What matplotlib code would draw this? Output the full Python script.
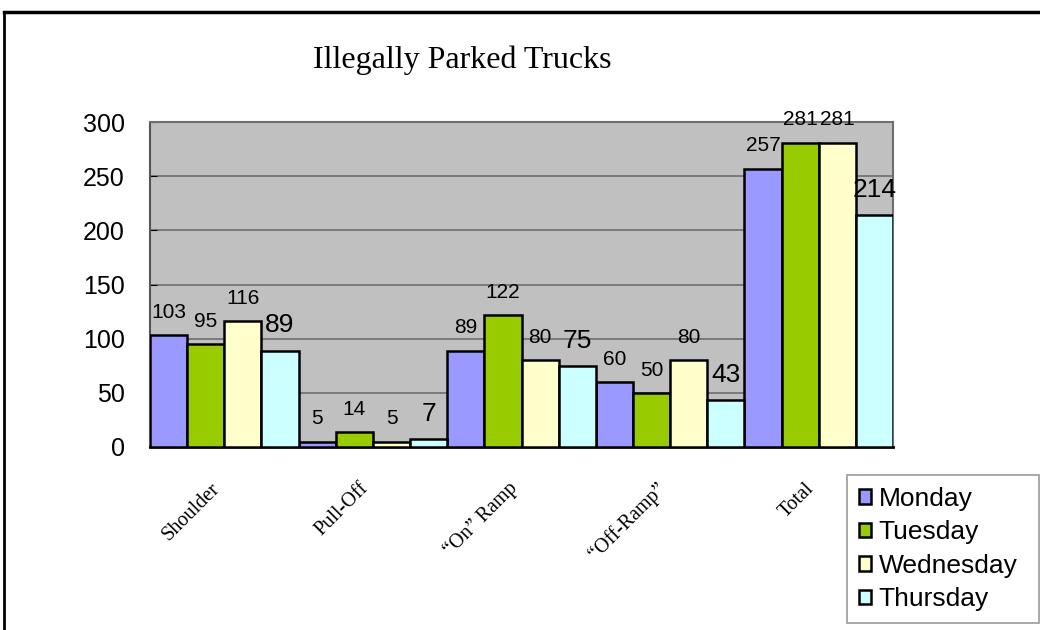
import numpy as np
import matplotlib.pyplot as plt
from matplotlib.lines import Line2D
from matplotlib.transforms import ScaledTranslation

categories = ["Shoulder", "Pull-Off", "\u201cOn\u201d Ramp", "\u201cOff-Ramp\u201d", "Total"]
days = ["Monday", "Tuesday", "Wednesday", "Thursday"]
monday = [103, 5, 89, 60, 257]
tuesday = [95, 14, 122, 50, 281]
wednesday = [116, 5, 80, 80, 281]
thursday = [89, 7, 75, 43, 214]

colors = ["#9999FF", "#99CC00", "#FFFFCC", "#CCFFFF"]
series = [monday, tuesday, wednesday, thursday]
label_sizes = [15, 15, 15, 19]

fig = plt.figure(figsize=(10.4, 6.3), dpi=100)
ax = fig.add_axes([150 / 1040, 1 - 447 / 630, 743 / 1040, 325 / 630])
ax.set_facecolor("#C0C0C0")

x = np.arange(len(categories))
w = 0.25
for i, (vals, c) in enumerate(zip(series, colors)):
    pos = x - 0.5 + w * (i + 0.5)
    ax.bar(pos, vals, width=w, color=c, edgecolor="black", linewidth=1.8,
           label=days[i], zorder=3)
    for xp, v in zip(pos, vals):
        ax.annotate(str(v), (xp, v), xytext=(0, 9.5), textcoords="offset points",
                    ha="center", va="bottom", fontsize=label_sizes[i],
                    family="Liberation Sans", zorder=4)

ax.set_xlim(-0.5, len(categories) - 0.5)
ax.set_ylim(0, 300)
ax.set_yticks(range(0, 301, 50))
ax.yaxis.grid(True, color="#6E6E6E", linewidth=1.2, zorder=0)
ax.set_axisbelow(True)
ax.tick_params(axis="y", direction="in", length=5, labelsize=18, pad=18)
for lab in ax.get_yticklabels():
    lab.set_family("Liberation Sans")

ax.set_xticks(x)
ax.set_xticklabels(categories, rotation=45, ha="right", rotation_mode="anchor",
                   family="Liberation Serif", fontsize=14.5)
ax.tick_params(axis="x", length=0, pad=0)
offset = ScaledTranslation(-14 / 100, -32 / 100, fig.dpi_scale_trans)
for lab in ax.get_xticklabels():
    lab.set_transform(lab.get_transform() + offset)

ax.spines["left"].set_color("#555555")
ax.spines["left"].set_linewidth(1.5)
ax.spines["bottom"].set_color("black")
ax.spines["bottom"].set_linewidth(2)
ax.spines["top"].set_color("#6E6E6E")
ax.spines["top"].set_linewidth(1.5)
ax.spines["right"].set_color("#6E6E6E")
ax.spines["right"].set_linewidth(1.5)

fig.text(462 / 1040, 1 - 60 / 630, "Illegally Parked Trucks", ha="center", va="center",
         family="Liberation Serif", fontsize=23)

leg = fig.legend(loc="upper left", mode="expand",
                 bbox_to_anchor=(847 / 1040, 1 - 475 / 630, 192 / 1040, 0),
                 frameon=True, fancybox=False, prop={"family": "Liberation Sans", "size": 19},
                 handlelength=0.45, handleheight=0.45, handletextpad=0.3,
                 labelspacing=0.36, borderpad=0.45, borderaxespad=0)
leg.get_frame().set_edgecolor("#808080")
leg.get_frame().set_linewidth(1.2)

# outer chart border
fig.add_artist(Line2D([4 / 1040, 1], [1 - 12 / 630, 1 - 12 / 630], color="black", lw=2.5,
                      transform=fig.transFigure))
fig.add_artist(Line2D([4 / 1040, 4 / 1040], [0, 1 - 12 / 630], color="black", lw=2,
                      transform=fig.transFigure))

fig.savefig("out.png", dpi=100)
